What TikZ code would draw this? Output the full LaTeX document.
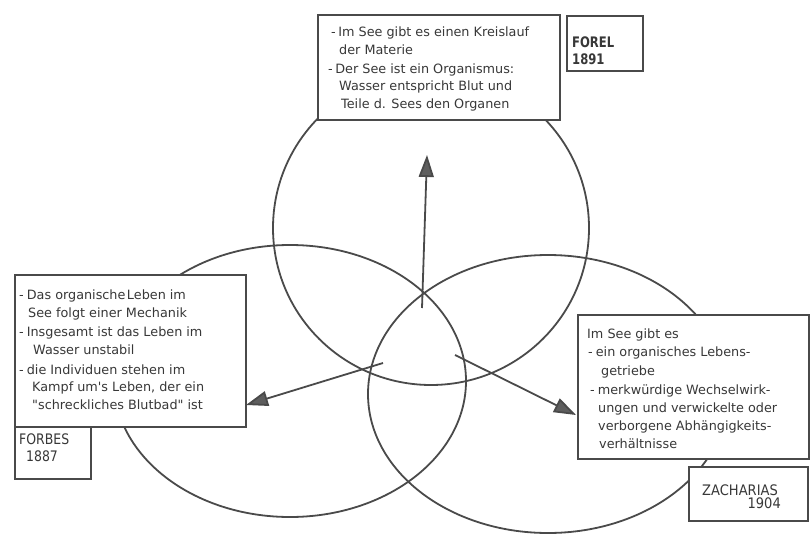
\documentclass[tikz,border=0pt]{standalone}
\usepackage{fontspec}
\setmainfont{DejaVu Sans}[Ligatures=TeXOff]
\usepackage{graphicx}
\usetikzlibrary{arrows.meta}
\definecolor{linegray}{HTML}{4A4A4A}
\definecolor{textgray}{HTML}{383838}
\definecolor{headgray}{HTML}{5E5E5E}
\begin{document}
\begin{tikzpicture}[x=1pt,y=-1pt,
  ring/.style={draw=linegray, line width=1.8pt},
  box/.style={draw=linegray, line width=2.2pt, fill=white, rectangle, inner sep=0pt, anchor=north west},
  txt/.style={anchor=base west, inner sep=0pt, text=textgray, font=\fontsize{12.8}{15}\selectfont},
  lbl/.style={anchor=base west, inner sep=0pt, text=textgray, font=\fontsize{14.5}{17}\selectfont},
  arr/.style={draw=linegray, line width=1.8pt, -{Triangle[length=22pt,width=15pt,fill=headgray]}}
]
\fill[white] (0,0) rectangle (810,537);
\useasboundingbox (0,0) rectangle (810,537);

% circles
\draw[ring] (431,228) ellipse [x radius=158pt, y radius=157pt];
\draw[ring] (290,381) ellipse [x radius=176pt, y radius=136pt];
\draw[ring] (548,394) ellipse [x radius=180pt, y radius=139pt];

% arrows
\coordinate (s1) at (422,308);
\coordinate (e1) at (427,155);
\coordinate (s2) at (383,363);
\coordinate (e2) at (246,405);
\coordinate (s3) at (455,355);
\coordinate (e3) at (576,415);
\draw[arr] (s1) -- (e1);
\draw[arr] (s2) -- (e2);
\draw[arr] (s3) -- (e3);

% boxes
\node[box, minimum width=242pt, minimum height=105pt] (tbox) at (317,14) {};
\node[box, minimum width=76pt, minimum height=55pt] (forelbox) at (566,15) {};
\node[box, minimum width=231pt, minimum height=152pt] (lbox) at (14,274) {};
\node[box, minimum width=76pt, minimum height=52pt] (forbesbox) at (14,426) {};
\node[box, minimum width=231pt, minimum height=144pt] (rbox) at (577,314) {};
\node[box, minimum width=119pt, minimum height=54pt] (zachbox) at (688,466) {};

% top box text
\node[txt] (t1) at (331,37) {-\hspace{2.5pt}Im See gibt es einen Kreislauf};
\node[txt] (t2) at (339,55) {der Materie};
\node[txt] (t3) at (328,74) {-\hspace{2.5pt}Der See ist ein Organismus:};
\node[txt] (t4) at (339,91) {Wasser entspricht Blut und};
\node[txt] (t5) at (341,109) {Teile d. Sees den Organen};

% left box text
\node[txt] (l1) at (19,299) {-\hspace{3pt}Das organische\hspace{1.5pt}Leben im};
\node[txt] (l2) at (28,317) {See folgt einer Mechanik};
\node[txt] (l3) at (19,336) {-\hspace{3pt}Insgesamt ist das Leben im};
\node[txt] (l4) at (33,354) {Wasser unstabil};
\node[txt] (l5) at (19,374) {-\hspace{3pt}die Individuen stehen im};
\node[txt] (l6) at (32,391) {Kampf um's Leben, der ein};
\node[txt] (l7) at (32,409) {"schreckliches Blutbad" ist};

% right box text
\node[txt] (r1) at (587,338) {Im See gibt es};
\node[txt] (r2) at (588,356) {-\hspace{3pt}ein organisches Lebens-};
\node[txt] (r3) at (601,375) {getriebe};
\node[txt] (r4) at (590,394) {-\hspace{3pt}merkwürdige Wechselwirk-};
\node[txt] (r5) at (598,412) {ungen und verwickelte oder};
\node[txt] (r6) at (598,430) {verborgene Abhängigkeits-};
\node[txt] (r7) at (599,448) {verhältnisse};

% labels
\node[lbl] (forel) at (572,48) {\scalebox{0.8}[1]{\bfseries FOREL}};
\node[lbl] (y1891) at (572,65) {\scalebox{0.8}[1]{\bfseries 1891}};
\node[lbl] (forbes) at (19,444) {\scalebox{0.86}[1]{FORBES}};
\node[lbl] (y1887) at (26,461) {\scalebox{0.86}[1]{1887}};
\node[lbl] (zach) at (702,495) {\scalebox{0.9}[1]{ZACHARIAS}};
\node[lbl, anchor=base east] (y1904) at (781,508) {\scalebox{0.9}[1]{1904}};
\end{tikzpicture}
\end{document}
